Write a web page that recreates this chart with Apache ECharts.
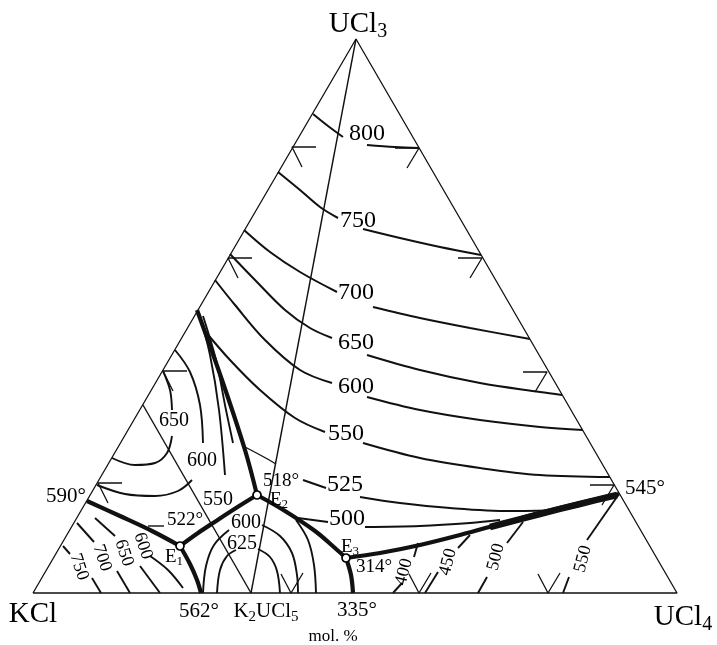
<!DOCTYPE html>
<html>
<head>
<meta charset="utf-8">
<script src="https://cdn.jsdelivr.net/npm/echarts/dist/echarts.min.js"></script>
<style>html,body{margin:0;background:#fff}#chart{width:717px;height:645px}</style>
</head>
<body>
<div id="chart"></div>
<script>
// ternary diagram KCl - UCl3 - UCl4 (x right, y down)
var frame = [[33,593],[677,593],[356,39],[33,593]];
var joinApex = [[356,39],[251,593]];
var joinLeft = [[143,405],[251,593]];
var joinShort = [[245,447],[262,456],[276,464]];
var dash522 = [[148,526],[164,526]];

// boundary curves (thick)
var b590E1 = [[87,501],[120,516],[152,531],[180,546]];
var bE1to562 = [[180,546],[190,564],[197,580],[201,593]];
var bE1E2 = [[180,546],[198,533],[213,523],[236,508],[257,495]];
var bTopE2 = [[197,310],[222,380],[245,450],[257,495]];
var bE2E3 = [[257,495],[285,511],[315,531],[335,548],[346,558]];
var bE3to335 = [[346,558],[351,575],[353,593]];
var bE3to545 = [[346,558],[380,553],[420,545],[460,535],[500,524],[540,513],[580,503],[619,494]];
var bWedge = [[490,527],[540,514],[580,504],[617,495]];

// UCl3 field isotherms (left part, right part)
var iso800 = [[[313,114],[328,126],[343,137]], [[367,145],[395,147],[419,148]]];
var iso750 = [[[278,172],[300,190],[320,207],[338,218]], [[363,229],[400,238],[440,247],[481,255]]];
var iso700 = [[[244,230],[270,252],[300,272],[337,292]], [[373,307],[420,318],[470,328],[530,339]]];
var iso650 = [[[230,254],[255,280],[285,310],[310,328],[332,338]], [[367,355],[420,370],[480,383],[540,392],[562,395]]];
var iso600 = [[[215,280],[235,305],[265,340],[300,370],[332,383]], [[367,397],[420,410],[480,420],[540,427],[583,430]]];
var iso550 = [[[204,330],[230,360],[260,390],[295,418],[325,432]], [[363,443],[420,458],[480,468],[540,475],[610,477]]];
var iso525 = [[[303,480],[326,488]], [[360,497],[400,503],[450,508],[510,511],[557,510],[590,503]]];
var iso500 = [[[298,518],[328,522]], [[365,527],[420,526],[470,523],[500,520]]];

// KCl-UCl3 side field
var left650 = [[[112,458],[135,465],[155,463],[167,453],[172,436]], [[172,410],[170,390],[163,371]]];
var left600 = [[[97,485],[125,494],[155,496],[178,491],[192,480]], [[203,443],[200,405],[190,372],[175,350]]];
var left550 = [[[199,313],[210,355],[219,410],[225,475]], [[203,316],[216,360],[226,410],[233,443]]];

// KCl field
var kcl750 = [[[63,546],[70,554]], [[92,578],[101,593]]];
var kcl700 = [[[77,523],[94,542]], [[117,571],[130,593]]];
var kcl650 = [[[95,518],[115,536]], [[140,566],[160,593]]];
var kcl600 = [[[150,556],[168,570],[183,588]]];

// K2UCl5 field
var k2u600 = [[[203,593],[206,566],[214,545],[229,530]], [[262,525],[280,536],[292,553],[297,575],[298,593]]];
var k2u625 = [[[217,593],[220,570],[227,556],[236,550]], [[258,549],[270,557],[277,571],[280,593]]];
var k2u550 = [[[296,520],[308,540],[314,565],[316,593]]];

// UCl4 field
var u400 = [[[418,543],[414,557]], [[402,583],[393,593]]];
var u450 = [[[470,535],[458,548]], [[438,572],[425,593]]];
var u500 = [[[523,522],[507,543]], [[487,577],[478,593]]];
var u550 = [[[619,494],[587,540]], [[569,577],[563,593]]];

// scale marks on the sides (tips)
var tipsLeft = [[292,147],[228,258],[163,371],[98,483]];
var tipsRight = [[419,148],[482,258],[547,372],[614,485]];
var tipsBottom = [[291,593],[419,593],[548,593]];

// eutectic points
var eutectics = [[180,546],[257,495],[346,558]];

// text
var corners = [['UCl_3',358,24],['KCl',33,614],['UCl_4',683,617]];
var pointTemps = [['562°',199,611],['K_2UCl_5',266,611],['335°',357,610],['590°',66,496],['545°',645,488]];
var smallTexts = [['522°',185,520],['518°',281,481],['E_1',174,557],['E_2',279,500],['E_3',350,547],['314°',374,567]];
var isoNames = [['800',367,134],['750',358,221],['700',356,293],['650',356,343],['600',356,387],['550',346,434],['525',345,485],['500',347,519]];
var fieldNames = [['650',174,421],['600',202,461],['550',218,500],['600',246,523],['625',242,544]];
var kclNames = [['750',79,567],['700',102,558],['650',124,553],['600',143,546]];
var ucl4Names = [['400',404,572],['450',448,562],['500',496,557],['550',583,559]];
var axisName = [['mol. %',333,637]];

var ink = '#000';
var series = [];
function addLine(pts, w, smooth) {
    series.push({type:'line', data:pts, symbol:'none', smooth:smooth ? 0.35 : false, silent:true,
        lineStyle:{color:'#111', width:w}, z:2});
}
function addGroup(list, w) { list.forEach(function (p) { addLine(p, w, true); }); }
function rich(t) { return '{m|' + t.replace(/_(\d)/g, '}{s|$1}{m|') + '}'; }
function addText(list, size, rotate) {
    var sub = Math.round(size * 0.7);
    series.push({type:'scatter', symbolSize:0, silent:true, z:5, itemStyle:{opacity:1},
        data:list.map(function (d) { return {name:d[0], value:[d[1], d[2]]}; }),
        label:{show:true, position:'inside', rotate:rotate || 0, color:ink, opacity:1,
            fontFamily:'Liberation Serif', fontSize:size,
            formatter:function (p) { return rich(p.name); },
            rich:{m:{fontSize:size, lineHeight:size, verticalAlign:'top', fontFamily:'Liberation Serif', color:ink},
                  s:{fontSize:sub, lineHeight:sub, verticalAlign:'top', padding:[Math.round(size*0.42),0,0,0],
                     fontFamily:'Liberation Serif', color:ink}}}
    });
}

addLine(frame, 1.3, false);
addLine(joinApex, 1.4, false);
addLine(joinLeft, 1.4, false);
addLine(joinShort, 1.4, true);
addLine(dash522, 1.4, false);

[b590E1, bE1to562, bE1E2, bTopE2, bE2E3, bE3to335, bE3to545].forEach(function (p) { addLine(p, 4.2, true); });
addLine(bWedge, 6.5, true);

[iso800, iso750, iso700, iso650, iso600, iso550, iso525, iso500].forEach(function (g) { addGroup(g, 2); });
[left650, left600, left550, kcl750, kcl700, kcl650, kcl600].forEach(function (g) { addGroup(g, 1.9); });
[k2u600, k2u625, k2u550, u400, u450, u500, u550].forEach(function (g) { addGroup(g, 1.9); });

tipsLeft.forEach(function (t) {
    addLine([[t[0]+24,t[1]],t,[t[0]+10,t[1]+20]], 1.3, false);
});
tipsRight.forEach(function (t) {
    addLine([[t[0]-24,t[1]],t,[t[0]-12,t[1]+20]], 1.3, false);
});
tipsBottom.forEach(function (t) {
    addLine([[t[0]-10,t[1]-19],t,[t[0]+12,t[1]-20]], 1.3, false);
});

series.push({type:'scatter', data:eutectics, symbol:'circle', symbolSize:8, silent:true, z:8,
    itemStyle:{color:'#fff', borderColor:'#000', borderWidth:1.7, opacity:1}});

addText(corners, 29);
addText(pointTemps, 21);
addText(smallTexts, 19);
addText(isoNames, 24);
addText(fieldNames, 20);
addText(kclNames, 18, -72);
addText(ucl4Names, 18, 76);
addText(axisName, 17);

var myChart = echarts.init(document.getElementById('chart'));
myChart.setOption({
    animation:false,
    backgroundColor:'#fff',
    grid:{left:0, right:0, top:0, bottom:0},
    xAxis:{type:'value', min:0, max:717, show:false},
    yAxis:{type:'value', min:0, max:645, inverse:true, show:false},
    series:series
});
</script>
</body>
</html>
